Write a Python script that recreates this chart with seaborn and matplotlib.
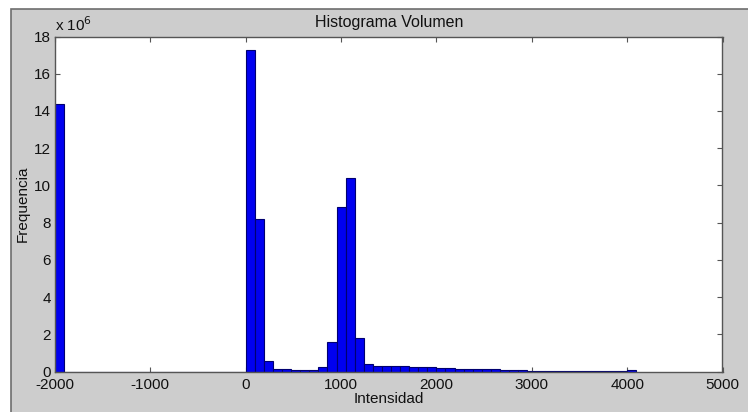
import seaborn as sns
import matplotlib.pyplot as plt
import matplotlib.patches as mpatches
import matplotlib.ticker as mticker
import numpy as np
import pandas as pd

# 64 bins between the min and max intensity of the volume
n_bins = 64
x_min, x_max = -2000, 4095
bin_width = (x_max - x_min) / n_bins
bin_centers = x_min + bin_width * (np.arange(n_bins) + 0.5)

# frequency per bin, in millions
freq_millions = [
    14.35, 0, 0, 0, 0, 0, 0, 0, 0, 0,
    0, 0, 0, 0, 0, 0, 0, 0, 0, 0,
    0, 17.3, 8.2, 0.54, 0.15, 0.12, 0.1, 0.1, 0.1, 0.22,
    1.58, 8.83, 10.4, 1.8, 0.41, 0.31, 0.30, 0.28, 0.27, 0.25,
    0.23, 0.22, 0.21, 0.19, 0.16, 0.15, 0.14, 0.12, 0.11, 0.10,
    0.08, 0.07, 0.05, 0.04, 0.04, 0.03, 0.03, 0.03, 0.03, 0.03,
    0.02, 0.02, 0.02, 0.07,
]
freq = np.array(freq_millions) * 1e6

x_ticks = [-2000, -1000, 0, 1000, 2000, 3000, 4000, 5000]
y_ticks = np.arange(0, 19e6, 2e6)

df = pd.DataFrame({"intensidad": bin_centers, "frecuencia": freq})

sns.set_style("ticks")
plt.rcParams["font.family"] = ["Liberation Sans", "DejaVu Sans"]
plt.rcParams["font.size"] = 11
plt.rcParams["axes.unicode_minus"] = False

txt = "#111111"

fig = plt.figure(figsize=(7.48, 4.12), dpi=100, facecolor="white")
# grey matlab-like panel behind the axes
panel = mpatches.Rectangle((11 / 748, -0.1), 1.1, 0.1 + (412 - 9) / 412, transform=fig.transFigure,
                           facecolor="#cdcdcd", edgecolor="#6e6e6e", linewidth=1.2, zorder=-1)
fig.patches.append(panel)

ax = fig.add_axes([55 / 748, 40.5 / 412, 667.5 / 748, 335 / 412])
sns.histplot(data=df, x="intensidad", weights="frecuencia", binwidth=bin_width,
             binrange=(x_min, x_max), color="#0000f0", edgecolor="#000070",
             linewidth=0.8, alpha=1, ax=ax)

ax.set_xlim(-2000, 5000)
ax.set_ylim(0, 18e6)
ax.set_xticks(x_ticks)
ax.set_yticks(y_ticks)
ax.yaxis.set_major_formatter(mticker.FuncFormatter(lambda v, p: f"{v / 1e6:.0f}"))
ax.tick_params(direction="in", top=True, right=True, length=3.5, width=0.8,
               colors="#555555", labelcolor=txt, labelsize=11, pad=3)
ax.tick_params(axis="x", pad=5)
for s in ax.spines.values():
    s.set_color("#555555")
    s.set_linewidth(1)

ax.set_title("Histograma Volumen", fontsize=11.5, color=txt, pad=7)
ax.set_xlabel("Intensidad", fontsize=11, color=txt, labelpad=0)
ax.set_ylabel("Frequencia", fontsize=11, color=txt, labelpad=3)
ax.text(0, 1.008, "x 10$^6$", transform=ax.transAxes, fontsize=11, color=txt,
        ha="left", va="bottom")

fig.savefig("out.png", dpi=100, facecolor=fig.get_facecolor())
